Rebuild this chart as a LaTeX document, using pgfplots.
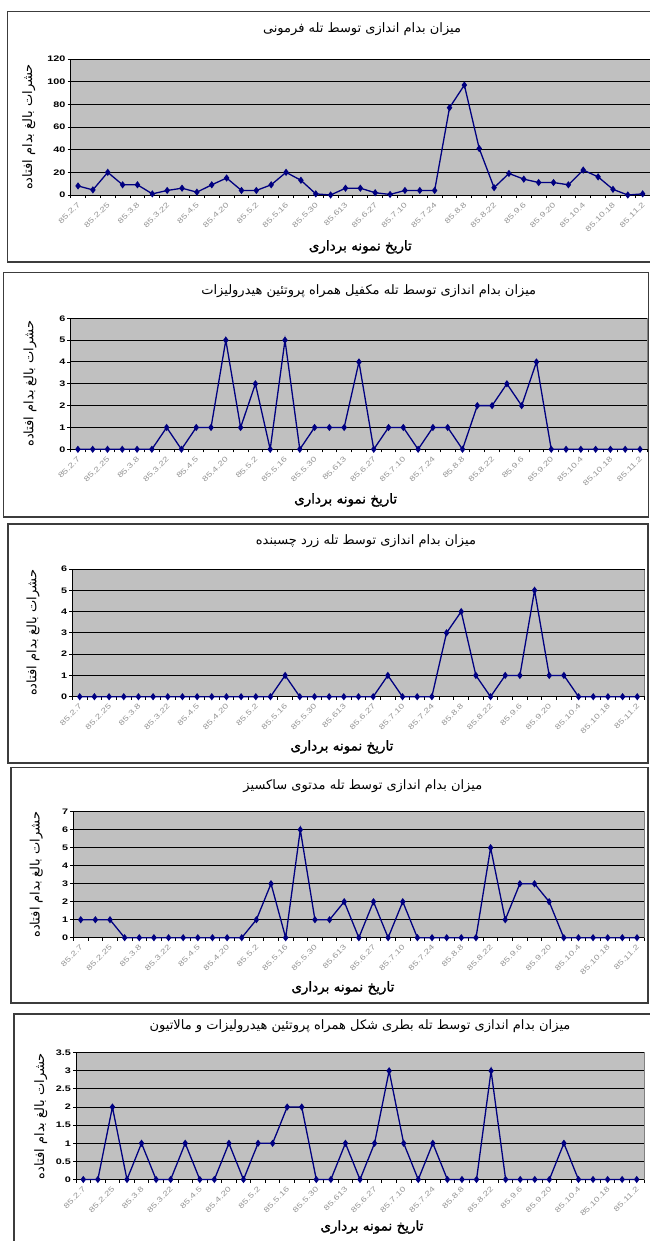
\documentclass[border=0pt]{standalone}
\usepackage{pgfplots}
\pgfplotsset{compat=1.18}
\usepackage{fontspec}
\setmainfont{Liberation Sans}
\newfontfamily\fa[Script=Arabic]{DejaVu Sans}
\newfontfamily\fab[Script=Arabic,FakeBold=1.5]{DejaVu Sans}
\newfontfamily\tickfont[FakeStretch=1.35]{Liberation Sans}
\TeXXeTstate=1
\definecolor{navy}{RGB}{0,0,128}
\definecolor{plotgray}{RGB}{192,192,192}
\definecolor{ticklab}{RGB}{150,150,150}
\definecolor{framec}{RGB}{60,60,60}

\pgfplotsset{
  panel/.style={
    scale only axis, clip=false,
    xmin=0.5, xmax=39.5, ymin=0,
    axis lines*=left,
    axis line style={black, line width=1bp, -},
    axis background/.style={fill=plotgray, draw=gray, line width=0.8bp},
    ymajorgrids, major grid style={black, line width=1bp},
    xtick={1,3,...,39},
    xticklabels={85.2.7,85.2.25,85.3.8,85.3.22,85.4.5,85.4.20,85.5.2,85.5.16,85.5.30,85.613,85.6.27,85.7.10,85.7.24,85.8.8,85.8.22,85.9.6,85.9.20,85.10.4,85.10.18,85.11.2},
    minor xtick={0.5,1.5,...,39.5},
    every major x tick/.append style={draw=none},
    tick align=outside,
    major tick length=3bp, minor tick length=3bp,
    tick style={black, line width=0.9bp},
    xticklabel style={font=\tickfont\fontsize{7.3bp}{8bp}\selectfont, text=ticklab, xshift=-1bp, yshift=-2bp, rotate=45, anchor=north east, inner sep=1bp},
    yticklabel style={font=\tickfont\bfseries\fontsize{8bp}{9bp}\selectfont, /pgf/number format/fixed, /pgf/number format/assume math mode=true, inner sep=2bp},
    title style={font=\fa\fontsize{13bp}{14bp}\selectfont, anchor=center},
    every axis y label/.style={font=\fa\fontsize{13bp}{14bp}\selectfont, rotate=90, anchor=center},
    every axis x label/.style={font=\fab\fontsize{13.5bp}{14bp}\selectfont, anchor=center},
    ylabel={\beginR حشرات بالغ بدام افتاده\endR},
    xlabel={\beginR تاریخ نمونه برداری\endR},
  },
  series/.style={navy, line width=1.3bp, mark=diamond*, mark size=2.6bp, mark options={navy}},
}

\begin{document}
\begin{tikzpicture}
\path[use as bounding box] (0bp,0bp) rectangle (650bp,-1241bp);
\fill[white] (0bp,0bp) rectangle (650bp,-1241bp);
% frames
\draw[framec, line width=1.2bp] (7.3bp,-11.7bp) -- (660bp,-11.7bp);
\draw[framec, line width=1.2bp] (7.3bp,-11.7bp) -- (7.3bp,-262bp) -- (660bp,-262bp);
\draw[framec, line width=1.2bp] (3.3bp,-272.7bp) rectangle (648.5bp,-517bp);
\draw[framec, line width=1.2bp] (8bp,-524bp) rectangle (648bp,-763bp);
\draw[framec, line width=1.2bp] (11bp,-767.7bp) rectangle (648bp,-1003bp);
\draw[framec, line width=1.2bp] (660bp,-1014bp) -- (14bp,-1014bp) -- (14bp,-1250bp);

% Panel 1
\begin{axis}[panel, at={(70.6bp,-195bp)}, anchor=south west, width=579.5bp, height=136bp,
  ymax=120, ytick={0,20,...,120},
  title={\beginR میزان بدام اندازی توسط تله فرمونی\endR},
  title style={at={(axis description cs:0.503,1.176)}},
  ylabel style={at={(axis description cs:-0.072,0.5)}},
  xlabel style={at={(axis description cs:0.5,-0.382)}}]
\addplot[series] coordinates {(1,8) (2,4.5) (3,20) (4,9) (5,9) (6,1) (7,4) (8,6) (9,2.5) (10,9) (11,15) (12,4) (13,4) (14,9) (15,20) (16,13) (17,1) (18,0) (19,6) (20,6) (21,2) (22,0.5) (23,4) (24,4) (25,4) (26,77) (27,97) (28,41) (29,6.5) (30,19) (31,14) (32,11) (33,11) (34,9) (35,22) (36,16) (37,5) (38,0) (39,1)};
\end{axis}

% Panel 2
\begin{axis}[panel, at={(70.5bp,-449.3bp)}, anchor=south west, width=576.9bp, height=131bp,
  ymax=6, ytick={0,1,...,6},
  title={\beginR میزان بدام اندازی توسط تله مکفیل همراه پروتئین هیدرولیزات\endR},
  title style={at={(axis description cs:0.517,1.163)}},
  ylabel style={at={(axis description cs:-0.070,0.5)}},
  xlabel style={at={(axis description cs:0.477,-0.387)}}]
\addplot[series] coordinates {(1,0) (2,0) (3,0) (4,0) (5,0) (6,0) (7,1) (8,0) (9,1) (10,1) (11,5) (12,1) (13,3) (14,0) (15,5) (16,0) (17,1) (18,1) (19,1) (20,4) (21,0) (22,1) (23,1) (24,0) (25,1) (26,1) (27,0) (28,2) (29,2) (30,3) (31,2) (32,4) (33,0) (34,0) (35,0) (36,0) (37,0) (38,0) (39,0)};
\end{axis}

% Panel 3
\begin{axis}[panel, at={(72.4bp,-696.7bp)}, anchor=south west, width=572.2bp, height=127.7bp,
  ymax=6, ytick={0,1,...,6},
  title={\beginR میزان بدام اندازی توسط تله زرد چسبنده\endR},
  title style={at={(axis description cs:0.513,1.172)}},
  ylabel style={at={(axis description cs:-0.069,0.5)}},
  xlabel style={at={(axis description cs:0.471,-0.394)}}]
\addplot[series] coordinates {(1,0) (2,0) (3,0) (4,0) (5,0) (6,0) (7,0) (8,0) (9,0) (10,0) (11,0) (12,0) (13,0) (14,0) (15,1) (16,0) (17,0) (18,0) (19,0) (20,0) (21,0) (22,1) (23,0) (24,0) (25,0) (26,3) (27,4) (28,1) (29,0) (30,1) (31,1) (32,5) (33,1) (34,1) (35,0) (36,0) (37,0) (38,0) (39,0)};
\end{axis}

% Panel 4
\begin{axis}[panel, at={(73.4bp,-937.7bp)}, anchor=south west, width=570.9bp, height=126bp,
  ymax=7, ytick={0,1,...,7},
  title={\beginR میزان بدام اندازی توسط تله مدتوی ساکسیز\endR},
  title style={at={(axis description cs:0.507,1.156)}},
  ylabel style={at={(axis description cs:-0.065,0.5)}},
  xlabel style={at={(axis description cs:0.472,-0.399)}}]
\addplot[series] coordinates {(1,1) (2,1) (3,1) (4,0) (5,0) (6,0) (7,0) (8,0) (9,0) (10,0) (11,0) (12,0) (13,1) (14,3) (15,0) (16,6) (17,1) (18,1) (19,2) (20,0) (21,2) (22,0) (23,2) (24,0) (25,0) (26,0) (27,0) (28,0) (29,5) (30,1) (31,3) (32,3) (33,2) (34,0) (35,0) (36,0) (37,0) (38,0) (39,0)};
\end{axis}

% Panel 5
\begin{axis}[panel, at={(76bp,-1179.5bp)}, anchor=south west, width=568bp, height=126.8bp,
  ymax=3.5, ytick={0,0.5,...,3.5},
  title={\beginR میزان بدام اندازی توسط تله بطری شکل همراه پروتئین هیدرولیزات و مالاتیون\endR},
  title style={at={(axis description cs:0.5,1.163)}},
  ylabel style={at={(axis description cs:-0.062,0.5)}},
  xlabel style={at={(axis description cs:0.521,-0.375)}}]
\addplot[series] coordinates {(1,0) (2,0) (3,2) (4,0) (5,1) (6,0) (7,0) (8,1) (9,0) (10,0) (11,1) (12,0) (13,1) (14,1) (15,2) (16,2) (17,0) (18,0) (19,1) (20,0) (21,1) (22,3) (23,1) (24,0) (25,1) (26,0) (27,0) (28,0) (29,3) (30,0) (31,0) (32,0) (33,0) (34,1) (35,0) (36,0) (37,0) (38,0) (39,0)};
\end{axis}
\end{tikzpicture}
\end{document}
